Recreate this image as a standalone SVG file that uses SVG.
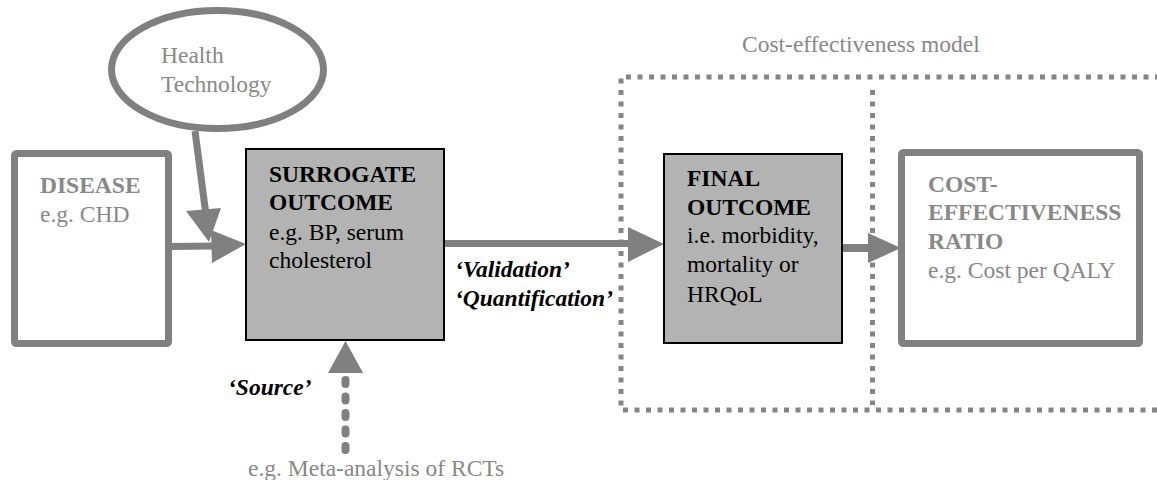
<svg xmlns="http://www.w3.org/2000/svg" width="1157" height="480" viewBox="0 0 1157 480" font-family="Liberation Serif, Times New Roman, serif" font-size="23.5">
<style>
.g{fill:#888}
.k{fill:#000}
.b{font-weight:bold}
.bi{font-weight:bold;font-style:italic;fill:#000}
.gbox{fill:#fff;stroke:#808080;stroke-width:7}
.sbox{fill:#b3b3b3;stroke:#000;stroke-width:2}
.dot{fill:none;stroke:#858585;stroke-width:5;stroke-dasharray:5 6.5}
.ln{stroke:#808080;fill:none}
.ah{fill:#808080}
</style>
<rect x="0" y="0" width="1157" height="480" fill="#fff"/>
<g id="cost-effectiveness-model">
<path class="dot" d="M1160,77 L621,77 L621,410 L1160,410"/>
<line class="dot" x1="872.5" y1="90" x2="872.5" y2="405"/>
<text class="g" x="742" y="52">Cost-effectiveness model</text>
</g>
<g id="connectors">
<line class="ln" x1="195" y1="131" x2="206" y2="215" stroke-width="7"/>
<polygon class="ah" points="186,211 221,208 209,242"/>
<line class="ln" x1="170" y1="246.5" x2="215" y2="246" stroke-width="7"/>
<polygon class="ah" points="211,230 246,244 212,263"/>
<line class="ln" x1="444" y1="243.5" x2="632" y2="243.5" stroke-width="7"/>
<polygon class="ah" points="628,227 664,244 628,262"/>
<line class="ln" x1="842" y1="248" x2="872" y2="248" stroke-width="8"/>
<polygon class="ah" points="868,233 901,248 868,263"/>
<polygon class="ah" points="345.5,341 328,373 363,373"/>
<line class="ln" x1="345.5" y1="380" x2="345.5" y2="452" stroke-width="8" stroke-linecap="round" stroke-dasharray="4 12.5"/>
<text class="bi" x="455" y="277">‘Validation’</text>
<text class="bi" x="455" y="306">‘Quantification’</text>
<text class="bi" x="228" y="395">‘Source’</text>
<text class="g" x="248" y="476">e.g. Meta-analysis of RCTs</text>
</g>
<g id="health-technology">
<ellipse cx="217.5" cy="69.5" rx="106" ry="59" fill="#fff" stroke="#808080" stroke-width="7"/>
<text class="g" x="161" y="63">Health</text>
<text class="g" x="161" y="92">Technology</text>
</g>
<g id="disease">
<rect class="gbox" x="14.5" y="153.5" width="154" height="190" rx="2"/>
<text class="g b" x="40" y="193">DISEASE</text>
<text class="g" x="40" y="222">e.g. CHD</text>
</g>
<g id="surrogate-outcome">
<rect class="sbox" x="246" y="149" width="198" height="191"/>
<text class="k b" x="269" y="182">SURROGATE</text>
<text class="k b" x="269" y="210">OUTCOME</text>
<text class="k" x="269" y="240">e.g. BP, serum</text>
<text class="k" x="269" y="268">cholesterol</text>
</g>
<g id="final-outcome">
<rect class="sbox" x="664" y="154" width="178" height="189"/>
<text class="k b" x="687" y="186">FINAL</text>
<text class="k b" x="687" y="215">OUTCOME</text>
<text class="k" x="687" y="243">i.e. morbidity,</text>
<text class="k" x="687" y="272">mortality or</text>
<text class="k" x="687" y="302">HRQoL</text>
</g>
<g id="cost-effectiveness-ratio">
<rect class="gbox" x="901.5" y="152.5" width="238" height="191" rx="2"/>
<text class="g b" x="928" y="192">COST-</text>
<text class="g b" x="928" y="220">EFFECTIVENESS</text>
<text class="g b" x="928" y="249">RATIO</text>
<text class="g" x="928" y="278">e.g. Cost per QALY</text>
</g>
</svg>
